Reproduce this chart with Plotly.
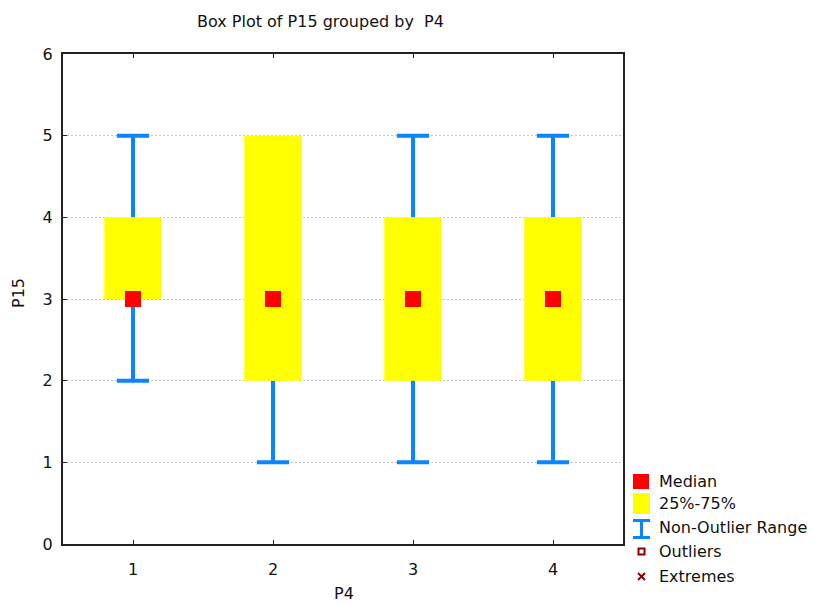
import plotly.graph_objects as go

# Box plot summary of P15 for each level of P4
groups = [1, 2, 3, 4]
whisker_low = [2, 1, 1, 1]
q1 = [3, 2, 2, 2]
median = [3, 3, 3, 3]
q3 = [4, 5, 4, 4]
whisker_high = [5, 5, 5, 5]

y_ticks = [0, 1, 2, 3, 4, 5, 6]
x_ticks = [1, 2, 3, 4]
legend_labels = ["Median", "25%-75%", "Non-Outlier Range", "Outliers", "Extremes"]

BLUE = "#0A84FF"
YELLOW = "#FFFF00"
RED = "#FF0000"
DARK_RED = "#8B0000"
FONT = "DejaVu Sans"

W, H = 814, 604
L, R, T, B = 63, 623, 54, 544  # plot area in pixels
BOX_WIDTH = 0.41


def px_x(px):
    return (px - L) / (R - L)


def px_y(py):
    return (B - py) / (B - T)


fig = go.Figure()

# whisker stems (drawn first so the boxes sit on top)
stem_x, stem_y = [], []
for g, lo, a, b, hi in zip(groups, whisker_low, q1, q3, whisker_high):
    stem_x += [g, g, None, g, g, None]
    stem_y += [b, hi, None, lo, a, None]
fig.add_trace(go.Scatter(x=stem_x, y=stem_y, mode="lines",
                         line=dict(color=BLUE, width=4), hoverinfo="skip"))

# whisker caps, only where the whisker reaches past the box
cap_x, cap_y = [], []
for g, lo, a, b, hi in zip(groups, whisker_low, q1, q3, whisker_high):
    if hi > b:
        cap_x.append(g)
        cap_y.append(hi)
    if lo < a:
        cap_x.append(g)
        cap_y.append(lo)
fig.add_trace(go.Scatter(
    x=cap_x, y=cap_y, mode="markers",
    marker=dict(symbol="line-ew", size=23, line=dict(color=BLUE, width=4)),
    hoverinfo="skip"))

# interquartile boxes
for g, a, b in zip(groups, q1, q3):
    x0, x1 = g - BOX_WIDTH / 2, g + BOX_WIDTH / 2
    fig.add_trace(go.Scatter(
        x=[x0, x1, x1, x0, x0], y=[a, a, b, b, a], mode="lines",
        fill="toself", fillcolor=YELLOW, line=dict(width=0, color=YELLOW),
        hoverinfo="skip"))

# medians
fig.add_trace(go.Scatter(
    x=groups, y=median, mode="markers",
    marker=dict(symbol="square", size=16, color=RED, line=dict(width=0))))

# legend (drawn by hand beside the plot)
shapes = []
annotations = []
rows_py = [481, 503, 527, 551, 576]
text_x = px_x(657)
for label, py in zip(legend_labels, rows_py):
    annotations.append(dict(
        x=text_x, y=px_y(py), xref="paper", yref="paper", text=label,
        showarrow=False, xanchor="left", yanchor="middle",
        font=dict(family=FONT, size=16, color="#111")))


def rect(x0, y0, x1, y1, fill, line_color=None, line_width=0):
    return dict(type="rect", xref="paper", yref="paper",
                x0=px_x(x0), x1=px_x(x1), y0=px_y(y0), y1=px_y(y1),
                fillcolor=fill, line=dict(width=line_width, color=line_color or fill))


def seg(x0, y0, x1, y1, color, width):
    return dict(type="line", xref="paper", yref="paper",
                x0=px_x(x0), x1=px_x(x1), y0=px_y(y0), y1=px_y(y1),
                line=dict(color=color, width=width))


shapes.append(rect(633, 474, 649, 489, RED))
shapes.append(rect(633, 493, 650, 514, YELLOW))
shapes.append(seg(633, 520.5, 650, 520.5, BLUE, 3))
shapes.append(seg(633, 537.5, 650, 537.5, BLUE, 3))
shapes.append(seg(641.5, 520, 641.5, 538, BLUE, 3))
shapes.append(rect(638.5, 548.5, 644.5, 554.5, "rgba(0,0,0,0)", DARK_RED, 2))
shapes.append(seg(638, 573, 645, 580, DARK_RED, 2))
shapes.append(seg(638, 580, 645, 573, DARK_RED, 2))

# title and axis titles
annotations.append(dict(
    x=px_x(320), y=px_y(21), xref="paper", yref="paper",
    text="Box Plot of P15 grouped by  P4",
    showarrow=False, xanchor="center", yanchor="middle",
    font=dict(family=FONT, size=16, color="#111")))
annotations.append(dict(
    x=px_x(18), y=px_y(293), xref="paper", yref="paper", text="P15", textangle=-90,
    showarrow=False, xanchor="center", yanchor="middle",
    font=dict(family=FONT, size=16, color="#111")))
annotations.append(dict(
    x=px_x(344), y=px_y(593), xref="paper", yref="paper", text="P4",
    showarrow=False, xanchor="center", yanchor="middle",
    font=dict(family=FONT, size=16, color="#111")))

axis_common = dict(
    showline=True, linecolor="#222", linewidth=2, ticks="inside", ticklen=4,
    tickcolor="#222", tickwidth=1, zeroline=False,
    tickfont=dict(family=FONT, size=16, color="#111"))

fig.update_layout(
    width=W, height=H,
    margin=dict(l=L, r=W - R, t=T, b=H - B, pad=0),
    paper_bgcolor="white", plot_bgcolor="white",
    showlegend=False,
    shapes=shapes, annotations=annotations,
    xaxis=dict(range=[0.5, 4.5], tickvals=x_ticks, ticktext=[str(v) for v in x_ticks],
               mirror="ticks", showgrid=False, ticklabelstandoff=10, **axis_common),
    yaxis=dict(range=[0, 6], tickvals=y_ticks, mirror=True, showgrid=True,
               gridcolor="#C4C4C4", griddash="2px,2px", gridwidth=1,
               ticklabelstandoff=5, **axis_common),
)

fig.write_html("out.html")
